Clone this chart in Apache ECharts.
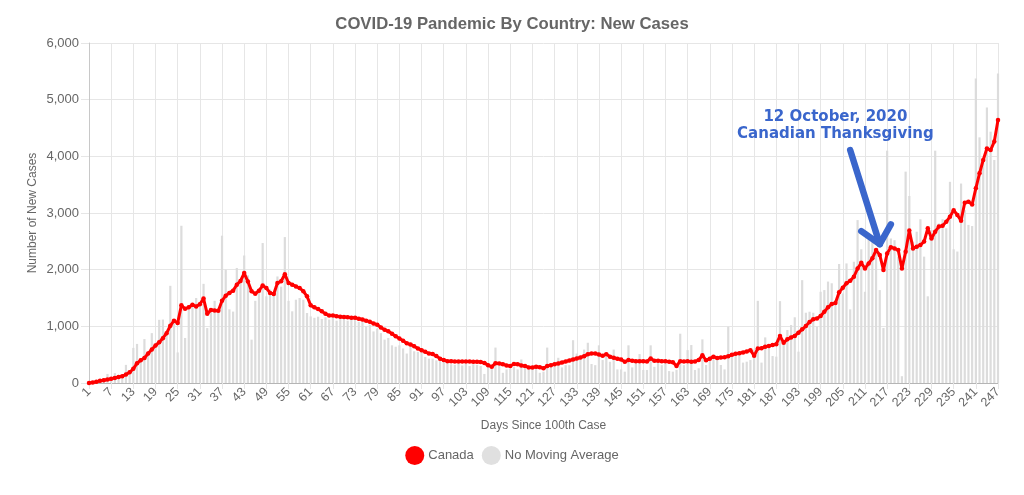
<!DOCTYPE html>
<html>
<head>
<meta charset="utf-8">
<script src="https://cdn.jsdelivr.net/npm/echarts@6/dist/echarts.min.js"></script>
<style>
html,body{margin:0;padding:0;background:#fff;}
#chart{width:1024px;height:495px;}
</style>
</head>
<body>
<div id="chart"></div>
<script>
const chartTitle = "COVID-19 Pandemic By Country: New Cases";
const seriesNames = ["Canada", "No Moving Average"];
const yTicks = [0, 1000, 2000, 3000, 4000, 5000, 6000];

const dayCount = 247;
const days = [];
for (let d = 1; d <= dayCount; d++) days.push(String(d));

// 7-day moving average (red line), days 1..247
const canadaAvg = [
  0,10,20,40,50,60,75,90,105,120,
  150,190,250,350,400,440,520,590,660,720,
  790,880,1010,1100,1060,1370,1310,1335,1380,1350,
  1390,1490,1220,1290,1280,1275,1450,1540,1590,1630,
  1735,1800,1940,1790,1620,1575,1630,1720,1675,1590,
  1570,1765,1795,1920,1765,1735,1705,1675,1620,1530,
  1370,1335,1305,1265,1220,1190,1190,1180,1170,1165,
  1160,1150,1150,1135,1120,1100,1080,1050,1030,980,
  940,912,870,825,785,745,700,680,650,610,
  580,550,520,510,475,430,405,385,385,380,
  380,380,378,378,376,376,370,355,315,285,
  350,345,330,310,300,335,330,310,300,275,
  275,285,278,260,300,315,333,345,363,380,
  398,415,433,450,474,509,520,520,503,480,
  509,462,445,427,415,374,404,392,386,386,
  386,380,433,392,392,386,386,374,368,300,
  386,380,385,376,380,405,490,400,430,465,
  440,450,455,470,500,515,525,540,555,580,
  480,610,615,640,655,670,685,830,711,770,
  805,830,888,947,1005,1076,1123,1140,1182,1258,
  1335,1394,1410,1600,1680,1760,1805,1875,2020,2120,
  2020,2110,2200,2345,2260,1995,2285,2395,2375,2345,
  2020,2315,2690,2375,2405,2435,2495,2730,2550,2670,
  2760,2775,2845,2935,3050,2965,2865,3180,3200,3150,
  3435,3700,3935,4140,4110,4260,4640
];

// daily new cases (grey bars), days 1..247
const canadaDaily = [
  10,15,25,45,50,160,90,175,100,130,
  320,200,620,690,420,775,560,880,700,1115,
  1120,900,1715,1100,540,2775,795,1350,1400,1500,
  1420,1750,970,1300,1450,1300,2600,2000,1300,1260,
  2030,1800,2250,1900,765,1450,1600,2470,1530,1650,
  1600,1880,1700,2575,1450,1265,1470,1500,1470,1235,
  1175,1150,1170,1130,1160,1120,1150,1100,1170,1140,
  1100,1150,1120,1080,1100,1000,1030,910,960,880,
  765,795,665,640,665,610,520,665,560,550,
  580,460,430,430,400,430,375,345,330,320,
  350,310,340,300,330,320,300,160,290,250,
  625,300,180,240,255,280,240,415,260,230,
  250,285,180,200,625,345,375,445,275,315,
  315,755,520,430,590,710,335,315,665,405,
  460,375,590,240,240,200,665,275,375,510,
  230,230,665,285,355,315,375,210,200,230,
  870,315,580,670,230,260,770,318,447,465,
  405,318,240,995,465,553,540,360,376,405,
  590,1450,360,805,670,476,465,1445,760,935,
  1023,1160,553,1815,1240,1258,1240,995,1610,1640,
  1790,1760,1465,2100,1580,2110,1300,2140,2875,2360,
  1610,2640,2520,2375,1640,970,4100,2550,2520,2230,
  120,3730,3300,2495,2670,2890,2230,1530,2700,4100,
  2815,2890,2730,3550,2360,2320,3520,3050,2790,2770,
  5375,4335,3905,4860,4435,3935,5460
];

// annotation (data coordinates: [day, cases])
const annoLines = ["12 October, 2020", "Canadian Thanksgiving"];
const annoTextAt = [[203.3, 4690], [203.3, 4390]];
const arrowShaft = [[207.3, 4110], [215.1, 2450]];
const arrowHead = [[210.4, 2680], [215.1, 2450], [217.6, 2800]];

const textColor = "#666666";
const gridColor = "#e6e6e6";
const blue = "#3a66cc";
const font = "Liberation Sans, Arial, sans-serif";

const chart = echarts.init(document.getElementById("chart"), null, {renderer: "canvas"});

const option = {
  animation: false,
  backgroundColor: "#ffffff",
  title: {
    text: chartTitle,
    left: "center",
    top: 11,
    textStyle: {fontFamily: font, fontSize: 16.7, fontWeight: "bold", color: textColor}
  },
  legend: {
    bottom: 25,
    left: "center",
    icon: "circle",
    itemWidth: 19,
    itemHeight: 19,
    itemGap: 8,
    data: [
      {name: seriesNames[0], itemStyle: {color: "#ff0000"}},
      {name: seriesNames[1], itemStyle: {color: "#e0e0e0"}}
    ],
    textStyle: {fontFamily: font, fontSize: 13, color: textColor, padding: [0, 0, 0, -1]}
  },
  grid: {left: 89, right: 26, top: 43, bottom: 112, containLabel: false},
  xAxis: {
    type: "category",
    data: days,
    boundaryGap: false,
    name: "Days Since 100th Case",
    nameLocation: "middle",
    nameGap: 37,
    nameMoveOverlap: false,
    nameTextStyle: {fontFamily: font, fontSize: 12, color: textColor},
    axisLine: {show: true, lineStyle: {color: "#b5b5b5", width: 1}},
    axisTick: {show: true, interval: 5, length: 6, lineStyle: {color: gridColor}},
    axisLabel: {interval: 5, rotate: 45, margin: 7, fontFamily: font, fontSize: 12.5, color: textColor},
    splitLine: {show: true, interval: 5, lineStyle: {color: gridColor, width: 1}}
  },
  yAxis: {
    type: "value",
    min: yTicks[0],
    max: yTicks[yTicks.length - 1],
    interval: 1000,
    name: "Number of New Cases",
    nameLocation: "middle",
    nameGap: 50,
    nameMoveOverlap: false,
    nameTextStyle: {fontFamily: font, fontSize: 12, color: textColor},
    axisLine: {show: true, lineStyle: {color: "#c8c8c8"}},
    axisTick: {show: true, length: 8, lineStyle: {color: gridColor}},
    axisLabel: {
      margin: 10,
      fontFamily: font, fontSize: 13, color: textColor,
      formatter: v => v.toLocaleString("en-US")
    },
    splitLine: {show: true, lineStyle: {color: gridColor, width: 1}}
  },
  series: [
    {
      name: seriesNames[0],
      type: "line",
      data: canadaAvg,
      z: 5,
      symbol: "circle",
      symbolSize: 4.5,
      showSymbol: true,
      showAllSymbol: true,
      itemStyle: {color: "#ff0000"},
      lineStyle: {color: "#ff0000", width: 3},
      emphasis: {disabled: true}
    },
    {
      name: seriesNames[1],
      type: "bar",
      data: canadaDaily,
      z: 1,
      barWidth: 2.2,
      itemStyle: {color: "#dcdcdc"},
      emphasis: {disabled: true}
    }
  ]
};
chart.setOption(option);

function px(pt) {
  return chart.convertToPixel({xAxisIndex: 0, yAxisIndex: 0}, [pt[0] - 1, pt[1]]);
}
const graphics = [];
annoLines.forEach((t, i) => {
  const p = px(annoTextAt[i]);
  graphics.push({
    type: "text", x: p[0], y: p[1], z: 20,
    style: {text: t, fill: blue, font: "bold 15px 'DejaVu Sans', sans-serif", textAlign: "center", textVerticalAlign: "middle"}
  });
});
graphics.push({
  type: "polyline", z: 20,
  shape: {points: arrowShaft.map(px)},
  style: {stroke: blue, lineWidth: 6.5, lineCap: "round", fill: null}
});
graphics.push({
  type: "polyline", z: 20,
  shape: {points: arrowHead.map(px)},
  style: {stroke: blue, lineWidth: 6.5, lineCap: "round", lineJoin: "round", fill: null}
});
chart.setOption({graphic: graphics});
</script>
</body>
</html>
